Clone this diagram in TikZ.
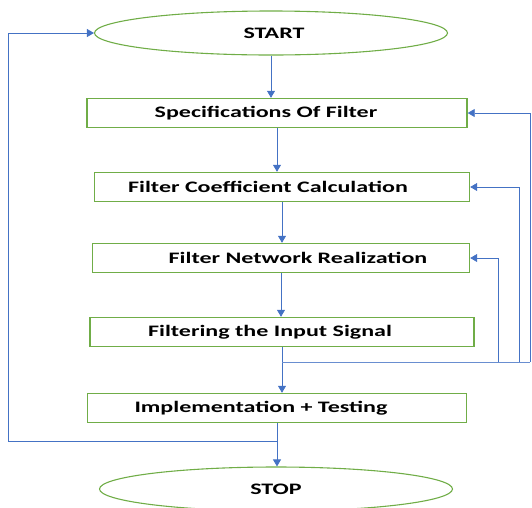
\documentclass[tikz,border=0pt]{standalone}
\usepackage{fontspec}
\usepackage{graphicx}
\setmainfont{Carlito}
\usetikzlibrary{shapes.geometric,arrows.meta}

\definecolor{boxgreen}{HTML}{70AD47}
\definecolor{flowblue}{HTML}{4472C4}

% stretched bold label text, optional sideways offset (twice the shift)
\newcommand{\steptext}[2][0pt]{\hspace*{#1}\scalebox{1.5}[1]{\bfseries #2}}

\tikzset{
  stepbox/.style={draw=boxgreen, line width=1.4pt, rectangle, minimum height=29pt,
    inner sep=0pt, font=\fontsize{16}{18}\selectfont},
  termbox/.style={draw=boxgreen, line width=1.1pt, ellipse, minimum width=353pt,
    minimum height=44pt, inner sep=0pt, font=\fontsize{16}{18}\selectfont},
  flow/.style={draw=flowblue, line width=0.8pt, -{Triangle[width=8pt,length=7pt]}},
  wire/.style={draw=flowblue!80, line width=0.8pt}
}

\begin{document}
\begin{tikzpicture}[x=1pt, y=-1pt]
  \useasboundingbox (0,0) rectangle (532,507);

  % terminals
  \node[termbox] (start) at (271,33) {\steptext[6pt]{START}};
  \node[termbox] (stop) at (276,489) {\steptext{STOP}};

  % process steps
  \node[stepbox, minimum width=380pt] (spec) at (277,113) {\steptext[-22pt]{Specifications Of Filter}};
  \node[stepbox, minimum width=375pt] (coef) at (282,187) {\steptext[-28pt]{Filter Coefficient Calculation}};
  \node[stepbox, minimum width=377pt] (netw) at (281,258) {\steptext[34pt]{Filter Network Realization}};
  \node[stepbox, minimum width=384pt] (filt) at (282,332) {\steptext[-24pt]{Filtering the Input Signal}};
  \node[stepbox, minimum width=379pt] (impl) at (277,408) {\steptext[-32pt]{Implementation + Testing}};

  % main flow
  \draw[flow] (start.south) -- (start.south |- spec.north);
  \draw[flow] (spec.south) -- (spec.south |- coef.north);
  \draw[flow] (coef.south) -- (coef.south |- netw.north);
  \draw[flow] (netw.south) -- (netw.south |- filt.north);
  \draw[flow] (filt.south) -- (filt.south |- impl.north);
  \draw[flow] (impl.south) -- (impl.south |- stop.north);

  % feedback from filtering back to earlier steps
  \coordinate (tap) at (282,362);
  \coordinate (r1) at (498,362);
  \coordinate (r2) at (519,362);
  \coordinate (r3) at (530,362);
  \draw[wire] (tap) -- (r3);
  \draw[flow] (r1) |- (netw.east);
  \draw[flow] (r2) |- (coef.east);
  \draw[flow] (r3) |- (spec.east);

  % loop back to start
  \coordinate (back) at (277,441);
  \coordinate (corner) at (8,441);
  \draw[flow] (back) -- (corner) |- (start.west);
\end{tikzpicture}
\end{document}
